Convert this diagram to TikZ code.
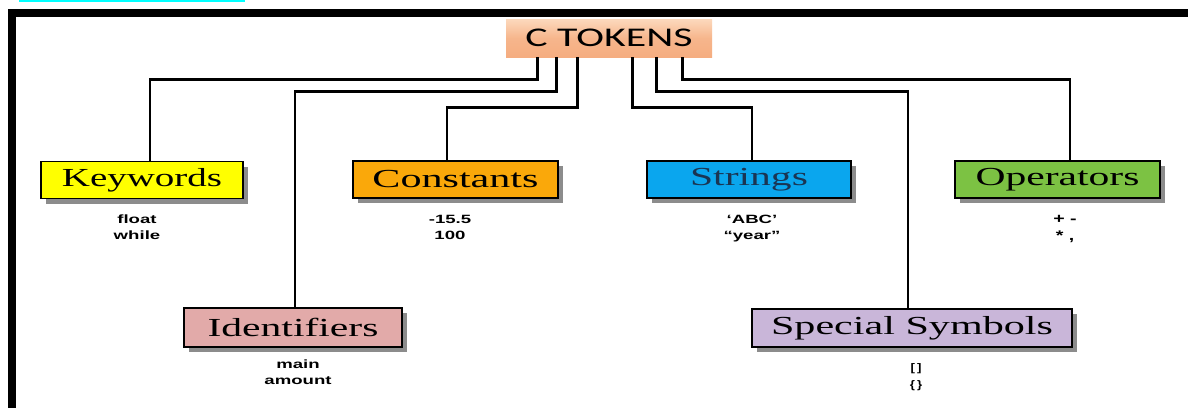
\documentclass[tikz,border=0pt]{standalone}
\usepackage{fontspec}
\setmainfont{Liberation Serif}
\newfontfamily\exfont{Liberation Sans}
\newfontfamily\headfont{Carlito}
\usetikzlibrary{shadows,calc}

\definecolor{peachtop}{HTML}{FCD9BD}
\definecolor{peachbot}{HTML}{F5AD80}
\definecolor{kwfill}{HTML}{FFFF00}
\definecolor{constfill}{HTML}{FAA80A}
\definecolor{strfill}{HTML}{0AA6EE}
\definecolor{strtext}{HTML}{1A3553}
\definecolor{opfill}{HTML}{7CC243}
\definecolor{idfill}{HTML}{E2AAA9}
\definecolor{spfill}{HTML}{C9B6D9}
\definecolor{shadowgray}{HTML}{8C8C8C}
\definecolor{topcyan}{HTML}{00FFFF}

% horizontally stretched lettering
\newcommand{\wide}[2][1.6]{\scalebox{#1}[1]{#2}}
\newcommand{\extext}[1]{\scalebox{1.55}[1]{\exfont\bfseries\fontsize{12}{16.5}\selectfont\begin{tabular}{@{}c@{}}#1\end{tabular}}}

\begin{document}
\begin{tikzpicture}[x=1pt,y=-1pt,
  cat/.style={draw=black, line width=1.5pt, inner sep=0pt,
    minimum height=37pt, font=\fontsize{26}{26}\selectfont,
    drop shadow={shadow xshift=5pt, shadow yshift=-5pt, fill=shadowgray, opacity=1}},
  head/.style={inner sep=0pt, minimum width=206pt, minimum height=38pt,
    top color=peachtop, bottom color=peachbot, middle color=peachbot!80!peachtop,
    font=\headfont\fontsize{27}{27}\selectfont},
  ex/.style={inner sep=0pt},
  link/.style={line width=2.8pt, draw=black}]

\useasboundingbox (0,0) rectangle (1188,408);
\fill[white] (0,0) rectangle (1188,408);

% frame
\fill[topcyan] (19,0) rectangle (245,1.5);
\fill[black] (8,9) rectangle (1188,17);
\fill[black] (8,9) rectangle (16,408);

% root
\node[head] (ctok) at (609,38) {\wide[1.55]{C TOKENS}};

% categories
\node[cat, fill=kwfill, minimum width=202pt] (kw) at (142,180) {\wide[1.5]{Keywords}};
\node[cat, fill=constfill, minimum width=205pt] (const) at (455.5,179.5) {\wide[1.62]{Constants}};
\node[cat, fill=strfill, minimum width=204pt, text=strtext] (str) at (749,179.5) {\wide{Strings}};
\node[cat, fill=opfill, minimum width=205pt] (op) at (1057.5,179.5) {\wide{Operators}};
\node[cat, fill=idfill, minimum width=218pt, minimum height=39pt] (id) at (293,327.5) {\wide{Identifiers}};
\node[cat, fill=spfill, minimum width=320pt, minimum height=38pt] (sp) at (912,328) {\wide[1.62]{Special Symbols}};

% examples
\node[ex] (kwx) at (137,228) {\extext{float\\while}};
\node[ex] (constx) at (450,228) {\extext{-15.5\\100}};
\node[ex] (strx) at (752,228) {\extext{‘ABC’\\“year”}};
\node[ex] (opx) at (1065,229) {\scalebox{1.4}[1]{\exfont\bfseries\fontsize{14}{17}\selectfont\begin{tabular}{@{}c@{}}+ -\\{}* ,\end{tabular}}};
\node[ex] (idx) at (298,373) {\extext{main\\amount}};
\node[ex] (spx) at (916,377) {\scalebox{1.2}[1]{\exfont\bfseries\fontsize{11}{17}\selectfont\begin{tabular}{@{}c@{}}[\,]\\\{\,\}\end{tabular}}};

% connectors
\draw[link] ([xshift=32pt]ctok.south west) -- ++(0,22) -| ([xshift=8pt]kw.north);
\draw[link] ([xshift=51pt]ctok.south west) -- ++(0,34) -| ([xshift=2pt]id.north);
\draw[link] ([xshift=72pt]ctok.south west) -- ++(0,50) -| ([xshift=-8.5pt]const.north);
\draw[link] ([xshift=127pt]ctok.south west) -- ++(0,50) -| ([xshift=3pt]str.north);
\draw[link] ([xshift=151pt]ctok.south west) -- ++(0,34) -| ([xshift=-4pt]sp.north);
\draw[link] ([xshift=177pt]ctok.south west) -- ++(0,22) -| ([xshift=12.5pt]op.north);
\end{tikzpicture}
\end{document}
